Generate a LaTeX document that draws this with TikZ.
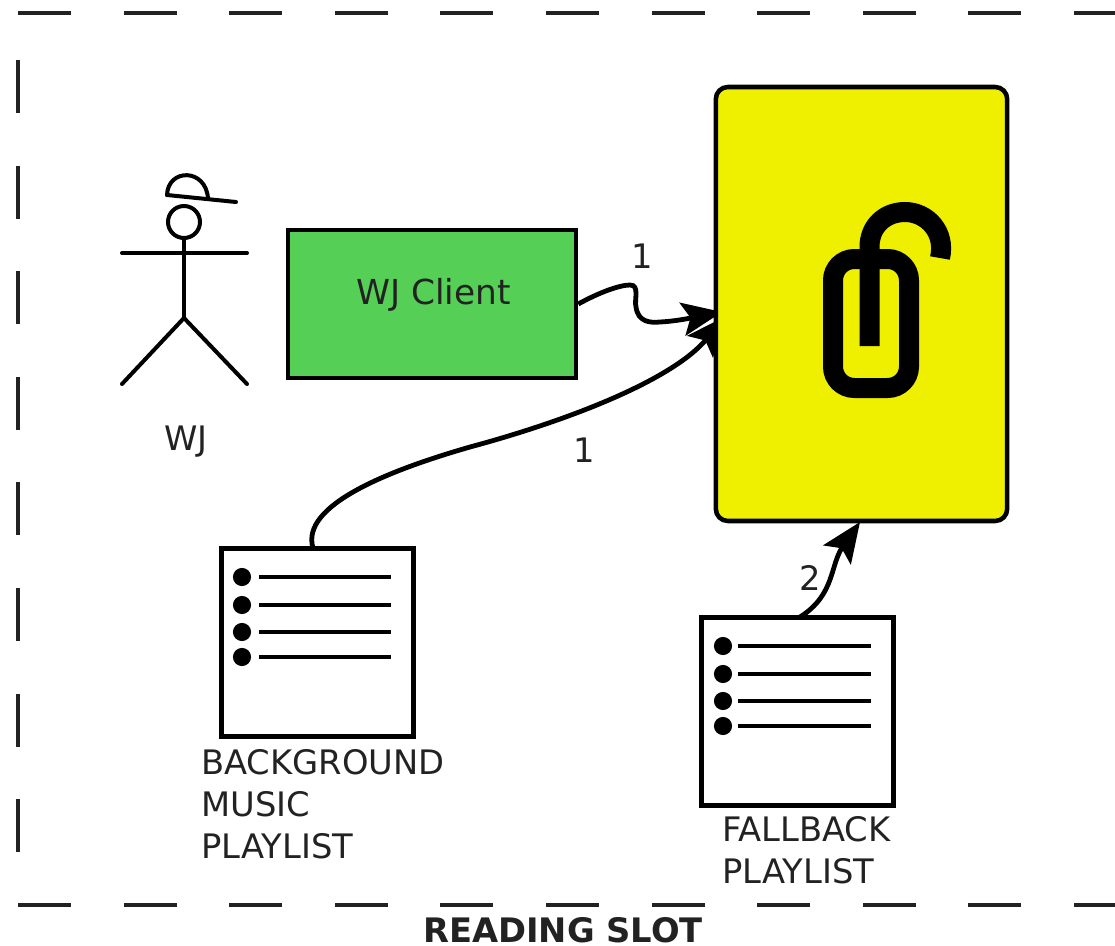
\documentclass[tikz,border=0pt]{standalone}
\usepackage{fontspec}
\setmainfont{DejaVu Sans}
\usetikzlibrary{arrows.meta}
\definecolor{clientgreen}{RGB}{86,207,86}
\definecolor{lockyellow}{RGB}{239,239,0}
\definecolor{inkgrey}{RGB}{34,34,34}
\tikzset{
  label/.style={text=inkgrey,inner sep=0pt,font=\fontsize{25.3}{31.5}\selectfont},
  slotline/.style={line width=3.4pt,draw=inkgrey,dash pattern=on 39.8pt off 39.4pt},
  figure/.style={line width=3pt,line cap=round},
  listbox/.style={draw,line width=3.6pt,fill=white,minimum width=144.5pt,minimum height=140.5pt,inner sep=0pt},
  feed/.style={line width=3.6pt,-{Stealth[length=30pt,width=25pt,inset=6pt]}}
}
\begin{document}
\begin{tikzpicture}[x=0.75pt,y=-0.75pt]
  \useasboundingbox (0,0) rectangle (1115,946);
  % outer dashed slot
  \coordinate (tl) at (18,13);
  \coordinate (tr) at (1115,13);
  \coordinate (bl) at (18,905);
  \coordinate (br) at (1115,905);
  \coordinate (lt) at (18,60);
  \coordinate (lb) at (18,853);
  \draw[slotline] (tl) -- (tr);
  \draw[slotline] (bl) -- (br);
  \draw[slotline] (lt) -- (lb);
  \node[label,font=\bfseries\fontsize{25.3}{30}\selectfont,anchor=base] (slot) at (563,942) {READING SLOT};
  % the person
  \node[figure,draw,circle,minimum size=24pt,inner sep=0pt] (head) at (184,222) {};
  \coordinate (hip) at (184,318);
  \coordinate (armL) at (122,253);
  \coordinate (armR) at (247,253);
  \coordinate (footL) at (122,384);
  \coordinate (footR) at (247,384);
  \coordinate (capL) at (167,195);
  \coordinate (capM) at (208,198.5);
  \coordinate (capR) at (236,202);
  \draw[figure] (head) -- (hip);
  \draw[figure] (armL) -- (armR);
  \draw[figure] (footL) -- (hip) -- (footR);
  \draw[figure] (capL) -- (capR);
  \draw[figure] (capL) .. controls (168,168) and (206,168) .. (capM);
  \node[label,anchor=base] (wj) at (186,450) {WJ};
  % client
  \node[draw,line width=3.4pt,fill=clientgreen,minimum width=216pt,minimum height=111pt,inner sep=0pt] (client) at (432,304) {};
  \node[label,font=\fontsize{25.8}{31.5}\selectfont,anchor=base] (clienttext) at (433.5,304) {WJ Client};
  % playlists
  \node[listbox] (background) at (317.5,642.5) {};
  \node[listbox] (fallback) at (797.5,711.5) {};
  \foreach \y in {577,605,632,657} {
    \fill (242,\y) circle (6.8pt);
    \draw[line width=3.3pt] (259,\y) -- (391,\y);
  }
  \foreach \y in {646,674,701,726} {
    \fill (723,\y) circle (6.8pt);
    \draw[line width=3.3pt] (738,\y) -- (871,\y);
  }
  \node[label,align=left,anchor=north west] (backgroundtext) at (201,749.5) {BACKGROUND\\MUSIC\\PLAYLIST};
  \node[label,align=left,anchor=north west] (fallbacktext) at (722,816) {FALLBACK\\PLAYLIST};
  % connectors
  \coordinate (inA) at (722,312);
  \coordinate (inB) at (726,316);
  \coordinate (inC) at (860,522);
  \coordinate (outB) at (313,548);
  \coordinate (outC) at (800,617);
  \draw[feed] (client.east) .. controls (600,292) and (620,285) .. (630,285)
    .. controls (640,285) and (634,300) .. (636,307)
    .. controls (638,322) and (650,323) .. (660,322)
    .. controls (680,321) and (700,316) .. (inA);
  \draw[feed] (outB) .. controls (300,505) and (390,470) .. (470,447)
    .. controls (570,420) and (672,380) .. (inB);
  \draw[feed] (outC) .. controls (835,595) and (830,565) .. (inC);
  \node[label] (one) at (642,256) {1};
  \node[label] (two) at (584,450) {1};
  \node[label] (three) at (810,578) {2};
  % lock box goes over the arrow tips
  \node[draw,line width=3.4pt,fill=lockyellow,rounded corners=9pt,minimum width=218.5pt,minimum height=325.5pt,inner sep=0pt] (mixer) at (861.5,304) {};
  \draw[line width=15pt,rounded corners=16pt] (833,259) rectangle (909,388);
  \coordinate (shackleA) at (869.5,346);
  \coordinate (shackleB) at (869.5,247);
  \coordinate (shackleC) at (905,212);
  \coordinate (shackleD) at (940,258);
  \draw[line width=15pt] (shackleA) -- (shackleB) .. controls (869.5,226) and (885,212) .. (shackleC)
    .. controls (927,212) and (946,232) .. (shackleD);
\end{tikzpicture}
\end{document}
